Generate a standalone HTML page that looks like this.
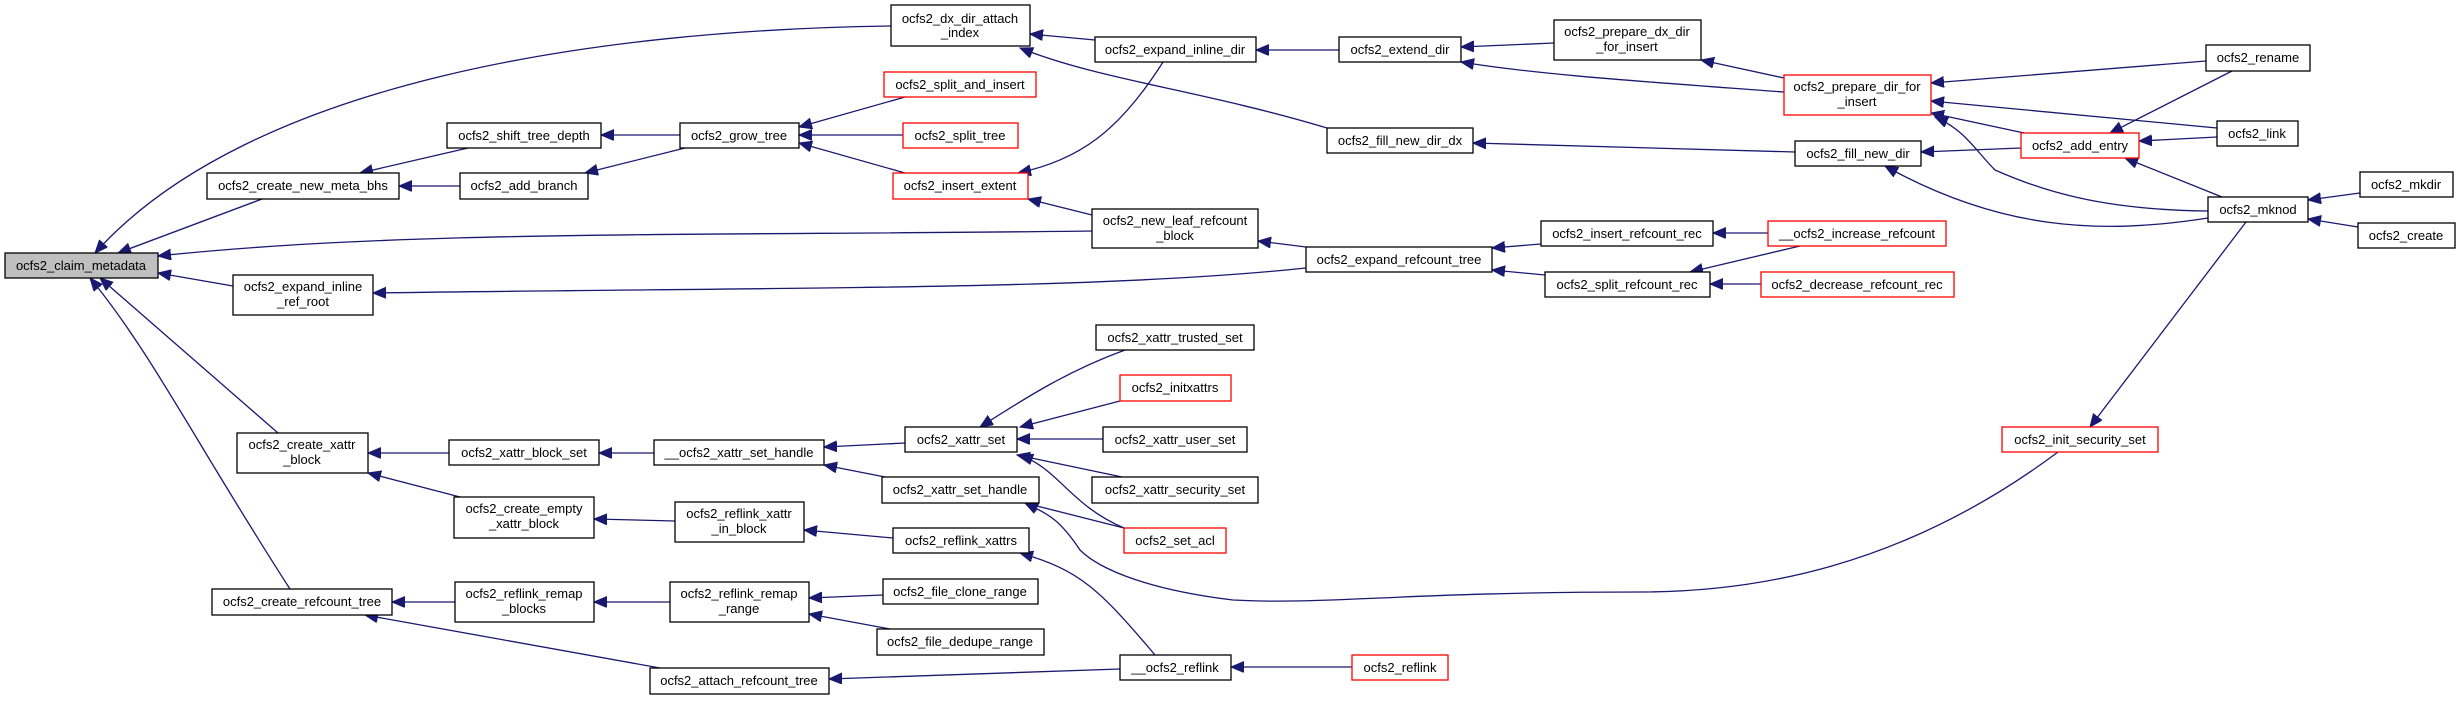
<!DOCTYPE html>
<html><head><meta charset="utf-8"><style>
html,body{margin:0;padding:0;background:#fff}
svg{display:block}
text{font-family:"Liberation Sans",sans-serif;font-size:13px;fill:#000;text-anchor:middle}
.b{fill:#fff;stroke:#000;stroke-width:1.3}
.r{fill:#fff;stroke:#ff0000;stroke-width:1.3}
.g{fill:#bfbfbf;stroke:#000;stroke-width:1.3}
path.e{fill:none;stroke:#191970;stroke-width:1.3}
</style></head><body>
<svg width="2461" height="701" viewBox="0 0 2461 701" xmlns="http://www.w3.org/2000/svg">
<defs><marker id="a" markerUnits="userSpaceOnUse" markerWidth="14" markerHeight="12" refX="13" refY="5.5" orient="auto"><path d="M0,0 L13,5.5 L0,11 z" fill="#191970" stroke="#191970"/></marker></defs>
<g marker-end="url(#a)">
<path class="e" d="M891,26 C600,30 250,80 95,253"/>
<path class="e" d="M262,199 L118,253"/>
<path class="e" d="M1092,231 C700,236 400,230 158,256"/>
<path class="e" d="M233,286 L158,273"/>
<path class="e" d="M278,433 L100,278"/>
<path class="e" d="M290,589 C200,450 150,350 90,278"/>
<path class="e" d="M468,148 L360,173"/>
<path class="e" d="M460,186 L399,186"/>
<path class="e" d="M680,135 L601,135"/>
<path class="e" d="M685,148 L585,173"/>
<path class="e" d="M905,97 L799,127"/>
<path class="e" d="M903,135 L799,135"/>
<path class="e" d="M905,173 L799,143"/>
<path class="e" d="M1095,40 L1030,34"/>
<path class="e" d="M1327,128 C1200,90 1100,80 1020,48"/>
<path class="e" d="M1163,62 C1120,130 1080,160 1018,173"/>
<path class="e" d="M1092,215 L1028,199"/>
<path class="e" d="M1339,50 L1256,50"/>
<path class="e" d="M1554,43 L1461,47"/>
<path class="e" d="M1784,92 C1650,82 1540,75 1461,62"/>
<path class="e" d="M1795,152 L1473,143"/>
<path class="e" d="M1306,247 L1258,241"/>
<path class="e" d="M1306,268 C1100,290 800,287 373,293"/>
<path class="e" d="M1541,244 L1492,248"/>
<path class="e" d="M1545,275 L1492,270"/>
<path class="e" d="M1784,78 L1701,60"/>
<path class="e" d="M2206,61 L1931,83"/>
<path class="e" d="M2217,128 L1931,101"/>
<path class="e" d="M2024,133 L1931,113"/>
<path class="e" d="M2208,211 C2100,210 2040,190 1995,170 C1975,150 1965,130 1935,117"/>
<path class="e" d="M2021,148 L1921,152"/>
<path class="e" d="M2208,218 C2100,235 2000,230 1885,166"/>
<path class="e" d="M2232,71 L2110,133"/>
<path class="e" d="M2217,137 L2139,141"/>
<path class="e" d="M2222,197 L2125,158"/>
<path class="e" d="M2360,193 L2308,200"/>
<path class="e" d="M2358,227 L2308,219"/>
<path class="e" d="M1768,233 L1713,233"/>
<path class="e" d="M1800,246 L1690,272"/>
<path class="e" d="M1761,284 L1710,284"/>
<path class="e" d="M449,453 L368,453"/>
<path class="e" d="M460,497 L368,473"/>
<path class="e" d="M654,453 L599,453"/>
<path class="e" d="M675,521 L594,519"/>
<path class="e" d="M455,602 L392,602"/>
<path class="e" d="M660,668 L365,615"/>
<path class="e" d="M670,602 L594,602"/>
<path class="e" d="M905,443 L824,447"/>
<path class="e" d="M885,477 L824,465"/>
<path class="e" d="M893,538 L804,530"/>
<path class="e" d="M883,595 L809,598"/>
<path class="e" d="M890,629 L809,614"/>
<path class="e" d="M1120,669 L829,679"/>
<path class="e" d="M1155,655 C1100,590 1080,570 1020,553"/>
<path class="e" d="M1352,667 L1231,667"/>
<path class="e" d="M1125,350 C1070,370 1030,395 980,427"/>
<path class="e" d="M1120,401 L1020,427"/>
<path class="e" d="M1103,439 L1017,439"/>
<path class="e" d="M1122,477 L1017,455"/>
<path class="e" d="M1124,528 C1070,505 1060,470 1020,455"/>
<path class="e" d="M1124,528 L1025,503"/>
<path class="e" d="M2058,452 C1900,570 1750,592 1640,592 C1400,592 1330,605 1233,600 C1150,590 1100,570 1080,550 C1060,520 1050,515 1025,503"/>
<path class="e" d="M2246,222 L2090,427"/>
</g>
<rect class="g" x="5" y="253" width="153" height="25"/><text x="81" y="270">ocfs2_claim_metadata</text>
<rect class="b" x="207" y="173" width="192" height="26"/><text x="303" y="190">ocfs2_create_new_meta_bhs</text>
<rect class="b" x="447" y="123" width="154" height="25"/><text x="524" y="140">ocfs2_shift_tree_depth</text>
<rect class="b" x="460" y="173" width="128" height="26"/><text x="524" y="190">ocfs2_add_branch</text>
<rect class="b" x="680" y="123" width="119" height="25"/><text x="739" y="140">ocfs2_grow_tree</text>
<rect class="b" x="233" y="275" width="140" height="40"/><text x="303" y="291">ocfs2_expand_inline</text><text x="303" y="306">_ref_root</text>
<rect class="b" x="237" y="433" width="131" height="40"/><text x="302" y="449">ocfs2_create_xattr</text><text x="302" y="464">_block</text>
<rect class="b" x="449" y="440" width="150" height="25"/><text x="524" y="457">ocfs2_xattr_block_set</text>
<rect class="b" x="654" y="440" width="170" height="25"/><text x="739" y="457">__ocfs2_xattr_set_handle</text>
<rect class="b" x="454" y="497" width="140" height="41"/><text x="524" y="513">ocfs2_create_empty</text><text x="524" y="528">_xattr_block</text>
<rect class="b" x="675" y="502" width="129" height="40"/><text x="739" y="518">ocfs2_reflink_xattr</text><text x="739" y="533">_in_block</text>
<rect class="b" x="212" y="589" width="180" height="26"/><text x="302" y="606">ocfs2_create_refcount_tree</text>
<rect class="b" x="455" y="582" width="139" height="40"/><text x="524" y="598">ocfs2_reflink_remap</text><text x="524" y="613">_blocks</text>
<rect class="b" x="670" y="582" width="139" height="40"/><text x="739" y="598">ocfs2_reflink_remap</text><text x="739" y="613">_range</text>
<rect class="b" x="650" y="668" width="179" height="26"/><text x="739" y="685">ocfs2_attach_refcount_tree</text>
<rect class="b" x="891" y="5" width="139" height="41"/><text x="960" y="23">ocfs2_dx_dir_attach</text><text x="960" y="37">_index</text>
<rect class="r" x="884" y="72" width="152" height="25"/><text x="960" y="89">ocfs2_split_and_insert</text>
<rect class="r" x="903" y="123" width="115" height="25"/><text x="960" y="140">ocfs2_split_tree</text>
<rect class="r" x="893" y="173" width="135" height="26"/><text x="960" y="190">ocfs2_insert_extent</text>
<rect class="b" x="1095" y="37" width="161" height="25"/><text x="1175" y="54">ocfs2_expand_inline_dir</text>
<rect class="b" x="1339" y="37" width="122" height="25"/><text x="1400" y="54">ocfs2_extend_dir</text>
<rect class="b" x="1327" y="128" width="146" height="25"/><text x="1400" y="145">ocfs2_fill_new_dir_dx</text>
<rect class="b" x="1092" y="209" width="166" height="39"/><text x="1175" y="225">ocfs2_new_leaf_refcount</text><text x="1175" y="240">_block</text>
<rect class="b" x="1306" y="247" width="186" height="25"/><text x="1399" y="264">ocfs2_expand_refcount_tree</text>
<rect class="b" x="1554" y="20" width="147" height="40"/><text x="1627" y="36">ocfs2_prepare_dx_dir</text><text x="1627" y="51">_for_insert</text>
<rect class="b" x="1541" y="221" width="172" height="25"/><text x="1627" y="238">ocfs2_insert_refcount_rec</text>
<rect class="b" x="1545" y="272" width="165" height="25"/><text x="1627" y="289">ocfs2_split_refcount_rec</text>
<rect class="b" x="1096" y="325" width="158" height="25"/><text x="1175" y="342">ocfs2_xattr_trusted_set</text>
<rect class="r" x="1120" y="375" width="111" height="26"/><text x="1175" y="392">ocfs2_initxattrs</text>
<rect class="b" x="905" y="427" width="112" height="25"/><text x="961" y="444">ocfs2_xattr_set</text>
<rect class="b" x="1103" y="427" width="144" height="25"/><text x="1175" y="444">ocfs2_xattr_user_set</text>
<rect class="b" x="882" y="477" width="157" height="26"/><text x="960" y="494">ocfs2_xattr_set_handle</text>
<rect class="b" x="1092" y="477" width="166" height="26"/><text x="1175" y="494">ocfs2_xattr_security_set</text>
<rect class="b" x="893" y="528" width="136" height="25"/><text x="961" y="545">ocfs2_reflink_xattrs</text>
<rect class="r" x="1124" y="528" width="102" height="25"/><text x="1175" y="545">ocfs2_set_acl</text>
<rect class="b" x="883" y="579" width="155" height="25"/><text x="960" y="596">ocfs2_file_clone_range</text>
<rect class="b" x="877" y="629" width="167" height="26"/><text x="960" y="646">ocfs2_file_dedupe_range</text>
<rect class="b" x="1120" y="655" width="111" height="25"/><text x="1175" y="672">__ocfs2_reflink</text>
<rect class="r" x="1352" y="655" width="96" height="25"/><text x="1400" y="672">ocfs2_reflink</text>
<rect class="r" x="1784" y="75" width="147" height="40"/><text x="1857" y="91">ocfs2_prepare_dir_for</text><text x="1857" y="106">_insert</text>
<rect class="b" x="1795" y="141" width="126" height="25"/><text x="1858" y="158">ocfs2_fill_new_dir</text>
<rect class="r" x="2021" y="133" width="118" height="25"/><text x="2080" y="150">ocfs2_add_entry</text>
<rect class="b" x="2206" y="45" width="104" height="26"/><text x="2258" y="62">ocfs2_rename</text>
<rect class="b" x="2217" y="121" width="81" height="25"/><text x="2257" y="138">ocfs2_link</text>
<rect class="b" x="2208" y="197" width="100" height="25"/><text x="2258" y="214">ocfs2_mknod</text>
<rect class="b" x="2360" y="172" width="93" height="25"/><text x="2406" y="189">ocfs2_mkdir</text>
<rect class="b" x="2358" y="223" width="97" height="25"/><text x="2406" y="240">ocfs2_create</text>
<rect class="r" x="1768" y="221" width="178" height="25"/><text x="1857" y="238">__ocfs2_increase_refcount</text>
<rect class="r" x="1761" y="272" width="193" height="25"/><text x="1857" y="289">ocfs2_decrease_refcount_rec</text>
<rect class="r" x="2002" y="427" width="156" height="25"/><text x="2080" y="444">ocfs2_init_security_set</text>
</svg>
</body></html>
